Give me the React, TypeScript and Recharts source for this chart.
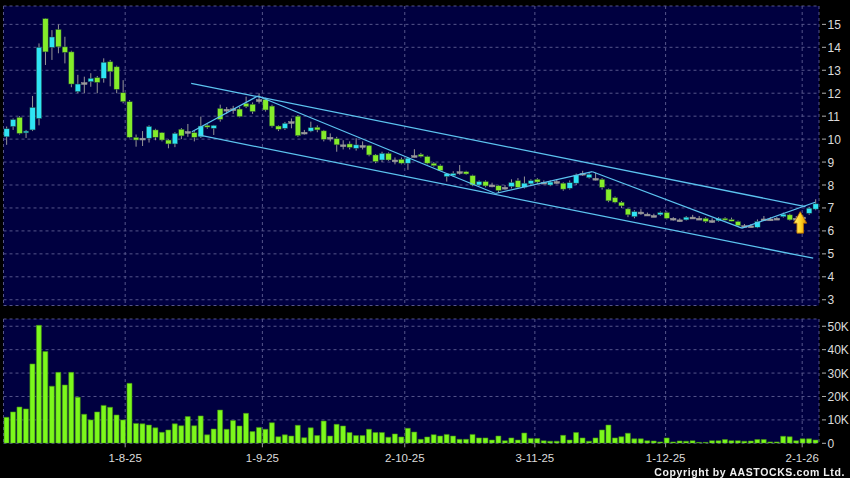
import { ComposedChart, BarChart, Bar, XAxis, YAxis, CartesianGrid, ReferenceLine, ReferenceDot } from "recharts";

// daily candles, early Jul 2025 .. 6 Jan 2026
const opens = [
  10.1, 10.55, 10.95, 10.3, 10.4, 10.9, 15.25, 14.0, 14.78, 14.02,
  13.8, 12.07, 12.46, 12.5, 12.68, 12.65, 13.37, 13.15, 12.02, 11.63,
  10.08, 10.04, 10.04, 10.4, 10.28, 9.96, 9.79, 10.43, 10.33, 10.28,
  10.1, 10.6, 10.47, 11.34, 11.3, 11.32, 11.31, 11.56, 11.52, 11.72,
  11.73, 11.44, 10.57, 10.47, 10.76, 11.0, 10.3, 10.35, 10.52, 10.36,
  10.08, 10.02, 9.75, 9.79, 9.6, 9.72, 9.72, 9.31, 9.09, 9.38,
  9.09, 9.12, 8.95, 9.28, 9.34, 9.24, 8.95, 8.84, 8.37, 8.41,
  8.58, 8.58, 8.41, 8.0, 8.15, 8.0, 7.97, 7.9, 7.93, 8.19,
  7.9, 8.05, 8.25, 8.12, 8.0, 8.15, 8.08, 7.86, 8.08, 8.51,
  8.32, 8.29, 8.25, 7.82, 7.45, 7.25, 6.96, 6.62, 6.82, 6.73,
  6.67, 6.7, 6.8, 6.55, 6.48, 6.48, 6.6, 6.55, 6.55, 6.45,
  6.44, 6.55, 6.5, 6.41, 6.23, 6.22, 6.16, 6.52, 6.52, 6.55,
  6.62, 6.7, 6.55, 6.6, 6.77, 6.95,
];
const highs = [
  10.55, 10.9, 11.0, 10.4, 11.88, 14.17, 15.26, 14.75, 15.0, 14.46,
  13.85, 12.8, 12.72, 12.87, 12.75, 13.52, 13.45, 13.2, 12.57, 11.7,
  10.2, 10.35, 10.6, 10.45, 10.3, 10.0, 10.3, 10.48, 10.66, 10.35,
  10.98, 10.65, 10.62, 11.5, 11.4, 11.45, 11.4, 11.85, 11.6, 12.0,
  11.8, 11.5, 10.6, 10.75, 10.9, 11.05, 10.4, 10.76, 10.6, 10.4,
  10.25, 10.1, 9.95, 9.9, 10.04, 9.9, 9.75, 9.35, 9.45, 9.42,
  9.2, 9.2, 9.2, 9.56, 9.4, 9.28, 9.0, 8.9, 8.52, 8.6,
  8.87, 8.62, 8.45, 8.2, 8.2, 8.1, 8.0, 8.0, 8.25, 8.3,
  8.37, 8.25, 8.3, 8.2, 8.2, 8.25, 8.12, 8.2, 8.5, 8.62,
  8.55, 8.54, 8.3, 7.85, 7.5, 7.3, 7.0, 6.9, 6.95, 6.8,
  6.75, 6.85, 6.85, 6.6, 6.55, 6.65, 6.7, 6.65, 6.6, 6.55,
  6.6, 6.6, 6.58, 6.45, 6.3, 6.3, 6.5, 6.65, 6.6, 6.6,
  6.8, 6.75, 6.65, 6.7, 7.05, 7.38,
];
const lows = [
  9.75, 10.4, 10.2, 10.05, 10.35, 10.6, 13.23, 13.45, 13.74, 13.3,
  12.26, 12.0, 12.0, 12.28, 12.0, 12.46, 12.3, 12.0, 11.56, 10.04,
  9.67, 9.7, 9.85, 9.95, 9.9, 9.6, 9.65, 10.0, 10.1, 9.9,
  10.05, 10.45, 10.18, 10.76, 11.1, 11.1, 10.95, 11.35, 11.1, 11.55,
  11.2, 10.5, 10.35, 10.4, 10.47, 10.1, 10.2, 10.3, 10.3, 9.9,
  9.9, 9.45, 9.55, 9.55, 9.5, 9.55, 9.25, 8.95, 9.0, 9.05,
  8.9, 8.9, 8.66, 9.2, 9.2, 8.9, 8.8, 8.6, 8.15, 8.35,
  8.45, 8.45, 7.95, 7.95, 7.9, 7.9, 7.65, 7.8, 7.85, 7.85,
  7.85, 7.95, 8.05, 8.05, 7.95, 8.05, 7.75, 7.8, 8.0, 8.4,
  8.28, 8.2, 7.8, 7.25, 7.2, 7.0, 6.6, 6.55, 6.7, 6.65,
  6.6, 6.65, 6.5, 6.45, 6.4, 6.45, 6.55, 6.5, 6.35, 6.35,
  6.4, 6.45, 6.42, 6.18, 6.15, 6.15, 6.12, 6.45, 6.45, 6.5,
  6.58, 6.45, 6.5, 6.5, 6.7, 6.9,
];
const closes = [
  10.45, 10.85, 10.25, 10.35, 11.38, 14.0, 13.8, 14.45, 14.02, 13.78,
  12.4, 12.4, 12.46, 12.65, 12.47, 13.35, 12.94, 12.17, 11.63, 10.08,
  9.96, 10.04, 10.55, 10.08, 9.96, 9.79, 10.25, 10.14, 10.33, 10.08,
  10.57, 10.55, 10.6, 10.86, 11.3, 11.32, 10.98, 11.41, 11.2, 11.72,
  11.27, 10.57, 10.43, 10.69, 10.76, 10.15, 10.3, 10.5, 10.4, 9.99,
  10.08, 9.75, 9.75, 9.64, 9.75, 9.72, 9.31, 9.02, 9.38, 9.09,
  9.09, 8.95, 9.17, 9.28, 9.24, 8.95, 8.84, 8.63, 8.5, 8.51,
  8.58, 8.48, 8.0, 8.15, 7.96, 8.0, 7.76, 7.9, 8.11, 7.9,
  8.08, 8.19, 8.13, 8.12, 8.13, 8.15, 7.82, 8.1, 8.44, 8.51,
  8.47, 8.29, 7.9, 7.31, 7.25, 7.09, 6.7, 6.84, 6.82, 6.73,
  6.67, 6.8, 6.55, 6.55, 6.48, 6.6, 6.6, 6.55, 6.41, 6.45,
  6.55, 6.5, 6.45, 6.23, 6.23, 6.22, 6.41, 6.52, 6.52, 6.55,
  6.73, 6.48, 6.55, 6.6, 6.99, 7.18,
];
// volume in thousands
const vols = [
  11.1, 13.4, 15.5, 14.7, 33.9, 50.4, 39.2, 24.4, 30.3, 24.9,
  30.3, 19.7, 12.4, 10.0, 13.4, 16.2, 15.4, 12.1, 10.0, 25.6,
  8.5, 8.3, 7.8, 6.6, 4.7, 5.7, 8.3, 7.5, 11.4, 7.5,
  11.7, 3.6, 6.1, 14.2, 6.0, 9.7, 7.4, 12.8, 5.0, 6.8,
  6.0, 8.8, 2.8, 3.6, 3.1, 7.7, 2.4, 6.6, 3.3, 9.5,
  3.1, 8.1, 7.4, 4.6, 3.3, 3.3, 6.0, 4.6, 4.6, 2.6,
  4.0, 2.7, 6.4, 4.8, 1.7, 2.7, 3.7, 3.1, 3.8, 3.1,
  1.7, 1.7, 3.8, 2.3, 2.3, 1.4, 3.1, 1.1, 2.3, 1.4,
  4.4, 2.1, 2.0, 1.1, 0.9, 0.9, 3.4, 1.4, 4.6, 2.3,
  0.9, 2.3, 5.7, 7.8, 2.3, 2.8, 4.3, 1.9, 1.9, 1.1,
  1.0, 0.6, 2.3, 0.6, 1.0, 0.9, 1.1, 0.4, 0.4, 1.1,
  1.1, 1.6, 1.1, 1.1, 0.9, 1.0, 1.6, 1.6, 0.6, 0.6,
  3.0, 2.8, 1.1, 1.9, 1.9, 1.4,
];

const dateTicks = [18.3, 39.5, 61.5, 81.6, 101.8, 122.9];
const dateLabels = ["1-8-25", "1-9-25", "2-10-25", "3-11-25", "1-12-25", "2-1-26"];
const priceTicks = [3, 4, 5, 6, 7, 8, 9, 10, 11, 12, 13, 14, 15];
const volTicks = [0, 10, 20, 30, 40, 50];

// trend channel and zigzag (bar index, price)
const upperLine = [{ x: 28.5, y: 12.43 }, { x: 123.4, y: 7.06 }];
const lowerLine = [{ x: 29.6, y: 10.18 }, { x: 124.6, y: 4.81 }];
const zigX = [28.6, 38.8, 75.5, 90.5, 113.6, 124.9];
const zigY = [10.32, 11.88, 7.63, 8.58, 6.12, 7.25];
const arrowAt = { x: 122.6, y: 6.84 };

const rows = opens.map((o, i) => ({ i, o, h: highs[i], l: lows[i], c: closes[i], v: vols[i] }));

const N = opens.length;
const FONT = "'Liberation Sans', Arial, sans-serif";
const NAVY = "#000040";
const GRID = "#55558a";
const UP = "#2fe4f4";
const DOWN = "#84ec2a";
const FLAT = "#9a9a9a";
const TREND = "#5cc4f0";

const Candle = (props: any) => {
  const { x, y, width, height, payload } = props;
  const { o, h, l, c } = payload;
  const ppu = h > l ? height / (h - l) : 0;
  const py = (v: number) => y + (h - v) * ppu;
  const cx = x + width / 2;
  const top = py(Math.max(o, c));
  const bot = py(Math.min(o, c));
  const col = c > o ? UP : c < o ? DOWN : FLAT;
  const bw = 5.4;
  return (
    <g>
      <line x1={cx} x2={cx} y1={y} y2={y + height} stroke="#959595" strokeWidth={1} />
      <rect x={cx - bw / 2} y={top} width={bw} height={Math.max(bot - top, 1.8)} fill={col}
        stroke={c === o ? FLAT : "#1b3a3a"} strokeWidth={0.5} />
    </g>
  );
};

const Arrow = (props: any) => {
  const { cx, cy } = props;
  if (cx == null || cy == null) return <g />;
  const pts = [
    [cx, cy], [cx + 6.5, cy + 11.5], [cx + 3.3, cy + 11.5], [cx + 3.3, cy + 21.5],
    [cx - 3.3, cy + 21.5], [cx - 3.3, cy + 11.5], [cx - 6.5, cy + 11.5],
  ].map((p) => p.join(",")).join(" ");
  return (
    <g>
      <defs>
        <linearGradient id="arrowFill" x1="0" y1="0" x2="1" y2="0">
          <stop offset="0%" stopColor="#fff27a" />
          <stop offset="55%" stopColor="#ffd21f" />
          <stop offset="100%" stopColor="#e08a00" />
        </linearGradient>
      </defs>
      <polygon points={pts} fill="url(#arrowFill)" stroke="#b86a00" strokeWidth={0.8} />
    </g>
  );
};

const RightTick = (props: any) => {
  const { x, y, payload, fmt } = props;
  return (
    <g>
      <line x1={x + 3} x2={x + 7} y1={y} y2={y} stroke="#b0b0b0" strokeWidth={1} />
      <text x={x + 8.5} y={y} dy={4.5} fill="#dcdcdc" fontSize={12} fontFamily={FONT} textAnchor="start">
        {fmt(payload.value)}
      </text>
    </g>
  );
};

const dateFmt = (v: number) => {
  const k = dateTicks.indexOf(v);
  return k >= 0 ? dateLabels[k] : "";
};

export default function App() {
  return (
    <div style={{ position: "fixed", left: 0, top: 0, width: 850, height: 478, background: "#000", fontFamily: FONT }}>
      <div style={{ position: "absolute", left: 0, top: 0 }}>
        <ComposedChart width={850} height={310} data={rows} margin={{ top: 6, right: 0, bottom: 4.5, left: 3.5 }}>
          <XAxis xAxisId="n" dataKey="i" type="number" domain={[-0.5, N - 0.5]} allowDataOverflow ticks={dateTicks} hide height={0} />
          <XAxis xAxisId="c" dataKey="i" hide height={0} />
          <YAxis orientation="right" width={31} domain={[2.75, 15.8]} allowDataOverflow ticks={priceTicks} interval={0}
            axisLine={false} tickLine={false} tickSize={0} tickMargin={0}
            tick={<RightTick fmt={(v: number) => String(v)} />} />
          <CartesianGrid xAxisId="n" fill={NAVY} stroke={GRID} strokeDasharray="3 3" />
          <Bar xAxisId="c" dataKey={(d: any) => [d.l, d.h]} shape={<Candle />} isAnimationActive={false} />
          <ReferenceLine xAxisId="n" segment={upperLine} stroke={TREND} strokeWidth={1.3} ifOverflow="visible" />
          <ReferenceLine xAxisId="n" segment={lowerLine} stroke={TREND} strokeWidth={1.3} ifOverflow="visible" />
          {zigX.slice(1).map((x, k) => (
            <ReferenceLine key={k} xAxisId="n" ifOverflow="visible" stroke={TREND} strokeWidth={1.2}
              segment={[{ x: zigX[k], y: zigY[k] }, { x, y: zigY[k + 1] }]} />
          ))}
          <ReferenceDot xAxisId="n" x={arrowAt.x} y={arrowAt.y} ifOverflow="visible" shape={<Arrow />} />
        </ComposedChart>
      </div>
      <div style={{ position: "absolute", left: 0, top: 310 }}>
        <BarChart width={850} height={168} data={rows} margin={{ top: 9, right: 0, bottom: 14.7, left: 3.5 }} barCategoryGap="8%">
          <XAxis xAxisId="n" dataKey="i" type="number" domain={[-0.5, N - 0.5]} allowDataOverflow ticks={dateTicks}
            interval={0} height={20} axisLine={false} tickSize={4} tickMargin={7} tickLine={{ stroke: "#9a9a9a" }}
            tick={{ fill: "#dcdcdc", fontSize: 11.5, fontFamily: FONT }} tickFormatter={dateFmt} />
          <XAxis xAxisId="c" dataKey="i" hide height={0} />
          <YAxis orientation="right" width={31} domain={[0, 53.1]} allowDataOverflow ticks={volTicks} interval={0}
            axisLine={false} tickLine={false} tickSize={0} tickMargin={0}
            tick={<RightTick fmt={(v: number) => (v === 0 ? "0" : `${v}K`)} />} />
          <CartesianGrid xAxisId="n" fill={NAVY} stroke={GRID} strokeDasharray="3 3" />
          <Bar xAxisId="c" dataKey="v" fill="#7cf81c" stroke="#3f8c12" strokeWidth={0.6} isAnimationActive={false} />
        </BarChart>
      </div>
      <div style={{ position: "absolute", right: 5, top: 465, color: "#f0f0f0", fontSize: 10.5, fontWeight: "bold", letterSpacing: 0.6, lineHeight: "14px" }}>
        Copyright by AASTOCKS.com Ltd.
      </div>
    </div>
  );
}
